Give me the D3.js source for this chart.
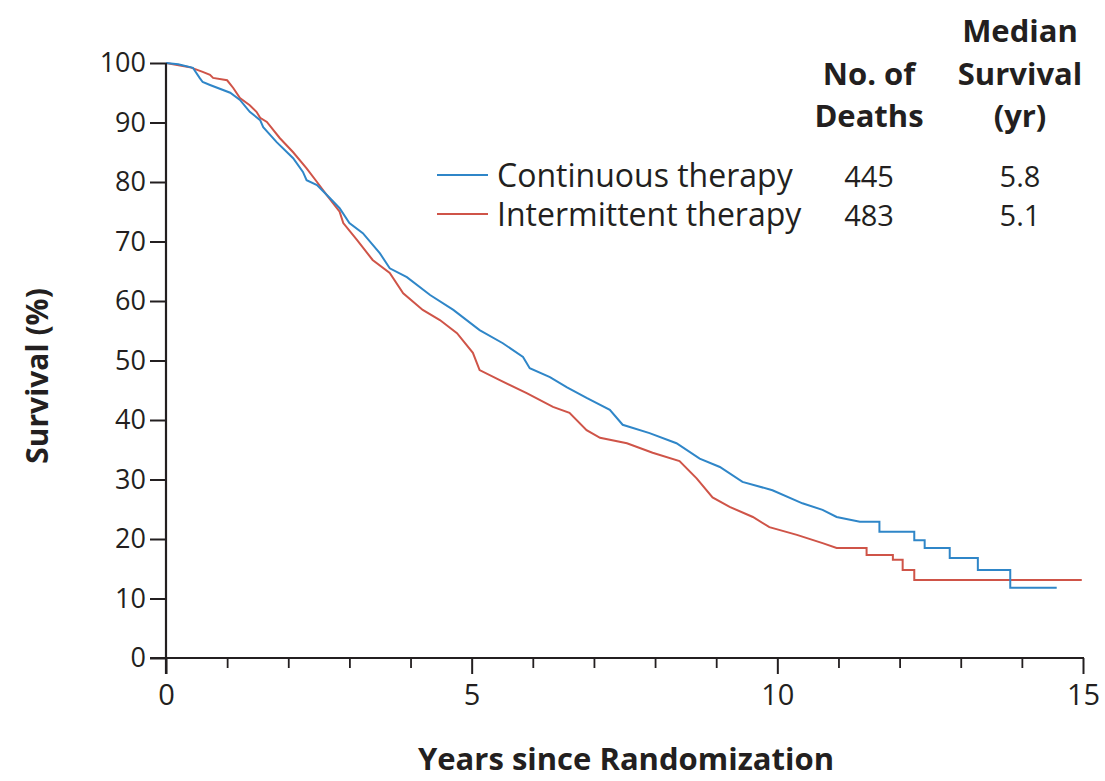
<!DOCTYPE html>
<html>
<head>
<meta charset="utf-8">
<script src="https://cdn.jsdelivr.net/npm/d3@7/dist/d3.min.js"></script>
<style>
  html, body { margin: 0; padding: 0; background: #fff; }
  svg { display: block; }
  text { font-family: "Open Sans", "Noto Sans", sans-serif; fill: #231f20; }
</style>
</head>
<body>
<svg id="chart" width="1105" height="781"></svg>
<script>
// Kaplan-Meier survival, continuous vs intermittent therapy
const seriesNames = ["Continuous therapy", "Intermittent therapy"];
const seriesColors = ["#2f86c8", "#cf5448"];
const deaths = ["445", "483"];
const medianSurvival = ["5.8", "5.1"];

// Continuous therapy: years and survival (%)
const contYears = [0, 0.2, 0.44, 0.55, 0.6, 0.72, 1.05, 1.21, 1.37, 1.54, 1.59, 1.81, 2.08, 2.24, 2.3, 2.47, 2.68, 2.84, 3.0, 3.22, 3.5, 3.66, 3.94, 4.32, 4.7, 5.13, 5.51, 5.84, 5.95, 6.28, 6.56, 6.88, 7.26, 7.47, 7.91, 8.35, 8.73, 9.06, 9.43, 9.92, 10.41, 10.74, 10.97, 11.35,
  11.67, 11.67, 12.24, 12.24, 12.41, 12.41, 12.82, 12.82, 13.28, 13.28, 13.81, 13.81, 14.57];
const contSurv = [100, 99.8, 99.2, 97.5, 96.8, 96.3, 95, 93.8, 91.8, 90.4, 89.2, 86.7, 84, 81.7, 80.3, 79.5, 77.3, 75.6, 73.1, 71.4, 68, 65.5, 64, 61, 58.5, 55.1, 52.9, 50.6, 48.7, 47.2, 45.5, 43.7, 41.7, 39.2, 37.8, 36.1, 33.5, 32.1, 29.6, 28.2, 26, 24.9, 23.7, 22.9,
  22.9, 21.2, 21.2, 19.8, 19.8, 18.5, 18.5, 16.8, 16.8, 14.8, 14.8, 11.8, 11.8];

// Intermittent therapy: years and survival (%)
const interYears = [0, 0.39, 0.6, 0.72, 0.77, 1.0, 1.1, 1.21, 1.37, 1.48, 1.54, 1.65, 1.86, 2.08, 2.3, 2.47, 2.63, 2.84, 2.9, 3.12, 3.38, 3.66, 3.88, 4.2, 4.48, 4.76, 5.02, 5.13, 5.46, 5.9, 6.33, 6.6, 6.88, 7.1, 7.54, 7.96, 8.4, 8.68, 8.94, 9.22, 9.6, 9.87, 10.32, 10.74, 10.97, 11.35,
  11.46, 11.46, 11.89, 11.89, 12.05, 12.05, 12.24, 12.24, 14.98];
const interSurv = [100, 99.3, 98.5, 98, 97.5, 97.1, 95.8, 94.1, 92.9, 91.8, 90.8, 90.1, 87.4, 85, 82.3, 80, 77.8, 75, 73.1, 70.3, 66.9, 64.7, 61.3, 58.5, 56.8, 54.6, 51.3, 48.4, 46.7, 44.5, 42.2, 41.2, 38.3, 37, 36.1, 34.5, 33.1, 30.2, 27, 25.4, 23.7, 22, 20.7, 19.3, 18.5, 18.5,
  18.5, 17.3, 17.3, 16.5, 16.5, 14.8, 14.8, 13.1, 13.1];

const yTicks = [0, 10, 20, 30, 40, 50, 60, 70, 80, 90, 100];
const xMajorTicks = [0, 5, 10, 15];
const xMinorTicks = d3.range(0, 16, 1);

const svg = d3.select("#chart");
const x = d3.scaleLinear().domain([0, 15]).range([166, 1083]);
const y = d3.scaleLinear().domain([0, 100]).range([658, 63]);
const ink = "#231f20";

// survival curves
const line = d3.line().x(d => x(d[0])).y(d => y(d[1])).curve(d3.curveLinear);
const curves = [d3.zip(contYears, contSurv), d3.zip(interYears, interSurv)];
// continuous drawn last so it sits on top
[1, 0].forEach(i => {
  svg.append("path")
    .datum(curves[i])
    .attr("d", line)
    .attr("fill", "none")
    .attr("stroke", seriesColors[i])
    .attr("stroke-width", 2)
    .attr("stroke-linejoin", "miter");
});

// y axis
const yAxis = svg.append("g").attr("transform", `translate(${x(0)},0)`)
  .call(d3.axisLeft(y).tickValues(yTicks).tickSize(16).tickPadding(4));
yAxis.select(".domain").remove();
yAxis.selectAll(".tick line").attr("stroke", ink).attr("stroke-width", 2);
yAxis.selectAll(".tick text").attr("font-size", 27).attr("fill", ink)
  .attr("font-family", "'Open Sans', sans-serif");
svg.append("line").attr("x1", x(0)).attr("x2", x(0)).attr("y1", y(100)).attr("y2", y(0) + 16)
  .attr("stroke", ink).attr("stroke-width", 2.2);

// x axis
const xAxisMinor = svg.append("g").attr("transform", `translate(0,${y(0)})`)
  .call(d3.axisBottom(x).tickValues(xMinorTicks.filter(v => !xMajorTicks.includes(v))).tickSize(10).tickFormat(""));
xAxisMinor.select(".domain").remove();
xAxisMinor.selectAll(".tick line").attr("stroke", ink).attr("stroke-width", 1.8);

const xAxis = svg.append("g").attr("transform", `translate(0,${y(0)})`)
  .call(d3.axisBottom(x).tickValues(xMajorTicks).tickSize(16).tickPadding(10));
xAxis.select(".domain").remove();
xAxis.selectAll(".tick line").attr("stroke", ink).attr("stroke-width", 2);
xAxis.selectAll(".tick text").attr("font-size", 29).attr("fill", ink)
  .attr("font-family", "'Open Sans', sans-serif");
svg.append("line").attr("x1", x(0) - 16).attr("x2", x(15) + 1).attr("y1", y(0)).attr("y2", y(0))
  .attr("stroke", ink).attr("stroke-width", 2.2);

// axis titles
svg.append("text")
  .attr("x", 626).attr("y", 770)
  .attr("text-anchor", "middle").attr("font-size", 31).attr("font-weight", "bold")
  .text("Years since Randomization");
svg.append("text")
  .attr("transform", "translate(48,376) rotate(-90)")
  .attr("text-anchor", "middle").attr("font-size", 30).attr("font-weight", "bold")
  .text("Survival (%)");

// legend table
const colDeaths = 869, colMedian = 1020;
const head = svg.append("g").attr("font-size", 31).attr("font-weight", "bold").attr("text-anchor", "middle");
head.append("text").attr("x", colMedian).attr("y", 42).text("Median");
head.append("text").attr("x", colDeaths).attr("y", 85).text("No. of");
head.append("text").attr("x", colMedian).attr("y", 85).text("Survival");
head.append("text").attr("x", colDeaths).attr("y", 127).text("Deaths");
head.append("text").attr("x", colMedian).attr("y", 127).text("(yr)");

const rowY = [187, 226];
seriesNames.forEach((name, i) => {
  const g = svg.append("g");
  g.append("line").attr("x1", 437).attr("x2", 488).attr("y1", rowY[i] - 12).attr("y2", rowY[i] - 12)
    .attr("stroke", seriesColors[i]).attr("stroke-width", 2);
  g.append("text").attr("x", 497).attr("y", rowY[i]).attr("font-size", 32).text(name);
  g.append("text").attr("x", colDeaths).attr("y", rowY[i]).attr("font-size", 29)
    .attr("text-anchor", "middle").text(deaths[i]);
  g.append("text").attr("x", colMedian).attr("y", rowY[i]).attr("font-size", 29)
    .attr("text-anchor", "middle").text(medianSurvival[i]);
});
</script>
</body>
</html>
